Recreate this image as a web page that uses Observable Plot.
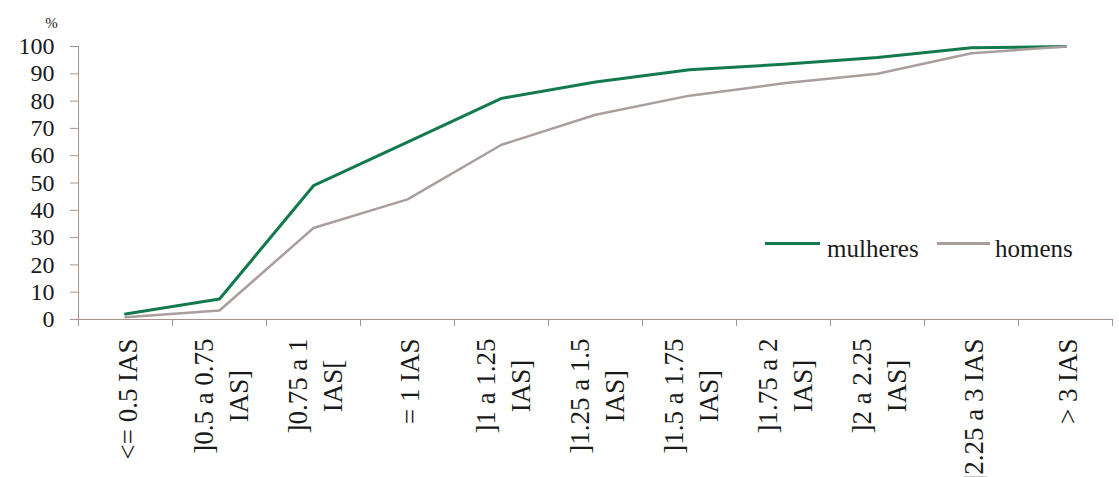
<!DOCTYPE html>
<html>
<head>
<meta charset="utf-8">
<script src="https://cdn.jsdelivr.net/npm/d3@7"></script>
<script src="https://cdn.jsdelivr.net/npm/@observablehq/plot@0.6"></script>
<style>
  html, body { margin: 0; padding: 0; background: #fff; }
  #wrap { position: relative; width: 1119px; height: 477px; overflow: hidden; }
  #wrap svg { display: block; }
  .sw { position: absolute; height: 3px; }
  .lt { position: absolute; color: #1a1a1a; white-space: nowrap; }
</style>
</head>
<body>
<div id="wrap"></div>
<script>
// ---- data ----
const categories = [
  "<= 0.5 IAS",
  "]0.5 a 0.75\nIAS]",
  "]0.75 a 1\nIAS[",
  "= 1 IAS",
  "]1 a 1.25\nIAS]",
  "]1.25 a 1.5\nIAS]",
  "]1.5 a 1.75\nIAS]",
  "]1.75 a 2\nIAS]",
  "]2 a 2.25\nIAS]",
  "]2.25 a 3 IAS",
  "> 3 IAS"
];
const mulheres = [2, 7.5, 49, 65, 81, 87, 91.5, 93.5, 96, 99.5, 100];
const homens   = [0.8, 3.3, 33.5, 44, 64, 75, 82, 86.5, 90, 97.5, 100];
const yTicks = [0, 10, 20, 30, 40, 50, 60, 70, 80, 90, 100];
const seriesNames = ["mulheres", "homens"];
const seriesColors = ["#137a4d", "#aa9e9e"];
const yUnit = "%";

// ---- font selection (serif, Times-like) ----
const ctx = document.createElement("canvas").getContext("2d");
function hasFont(name) {
  const s = "mmmmmmmmmmlli10WQ@#";
  ctx.font = `72px monospace`; const a = ctx.measureText(s).width;
  ctx.font = `72px "${name}", monospace`; const b = ctx.measureText(s).width;
  return Math.abs(a - b) > 0.5;
}
const FONT_NAME = ["Liberation Serif", "Times New Roman", "Tinos", "Nimbus Roman", "DejaVu Serif", "Noto Serif"].find(hasFont) || "serif";
const FONT = `"${FONT_NAME}", serif`;
function fitSize(sample, target) {
  ctx.font = `100px ${FONT}`;
  return 100 * target / ctx.measureText(sample).width;
}
const LABEL_SIZE = Math.min(27, fitSize("<= 0.5 IAS", 121));
const TICK_SIZE = Math.min(24, fitSize("100", 36));
const LEGEND_SIZE = Math.min(25, fitSize("mulheres", 95));
const UNIT_SIZE = 15;

// ---- layout / style ----
const W = 1119, H = 477;
const ML = 78, MR = 7, MT = 46, MB = 158;
const STEP = (W - ML - MR) / categories.length;
const AXIS = "#a8948c";
const TEXT = "#1a1a1a";
const LABEL_GAP = 19;

const rows = [];
categories.forEach((c, i) => {
  rows.push({cat: c, value: mulheres[i], series: seriesNames[0]});
  rows.push({cat: c, value: homens[i], series: seriesNames[1]});
});

ctx.font = `${LABEL_SIZE}px ${FONT}`;
const labelMarks = categories.map(c => {
  const w = d3.max(c.split("\n"), s => ctx.measureText(s).width);
  return Plot.text([c], {
    x: d => d, frameAnchor: "bottom", rotate: -90,
    textAnchor: "middle", lineAnchor: "middle", lineHeight: 1.28,
    fontSize: LABEL_SIZE, fill: TEXT, dy: LABEL_GAP + w / 2
  });
});

const plot = Plot.plot({
  width: W, height: H,
  marginLeft: ML, marginRight: MR, marginTop: MT, marginBottom: MB,
  x: {type: "point", domain: categories, padding: 0.5, axis: null},
  y: {domain: [0, 100], axis: null},
  style: {fontFamily: FONT, background: "#fff", color: TEXT},
  marks: [
    Plot.axisY(yTicks, {anchor: "left", tickSize: 8, tickPadding: 16, fontSize: TICK_SIZE, stroke: AXIS, fill: TEXT, label: null}),
    Plot.ruleX([categories[0]], {x: d => d, y1: 0, y2: 100, dx: -STEP / 2, stroke: AXIS}),
    Plot.ruleY([0], {stroke: AXIS}),
    Plot.ruleX(categories, {x: d => d, y1: 0, y2: 0, insetBottom: -7, dx: -STEP / 2, stroke: AXIS}),
    Plot.ruleX([categories[categories.length - 1]], {x: d => d, y1: 0, y2: 0, insetBottom: -7, dx: STEP / 2, stroke: AXIS}),
    Plot.text([yUnit], {frameAnchor: "top-left", dx: -27, dy: -23, fontSize: UNIT_SIZE, fill: TEXT, textAnchor: "middle", lineAnchor: "middle"}),
    Plot.line(rows.filter(d => d.series === seriesNames[0]), {x: "cat", y: "value", stroke: seriesColors[0], strokeWidth: 3}),
    Plot.line(rows.filter(d => d.series === seriesNames[1]), {x: "cat", y: "value", stroke: seriesColors[1], strokeWidth: 2.5}),
    ...labelMarks
  ]
});

const wrap = document.getElementById("wrap");
wrap.style.fontFamily = FONT;
wrap.appendChild(plot);

// legend (inside plot area)
const legendPos = [
  {sx: 765, sw: 55, tx: 827},
  {sx: 937, sw: 53, tx: 995}
];
seriesNames.forEach((name, i) => {
  const p = legendPos[i];
  const s = document.createElement("div");
  s.className = "sw";
  s.style.left = p.sx + "px"; s.style.top = "242px"; s.style.width = p.sw + "px";
  s.style.background = seriesColors[i];
  wrap.appendChild(s);
  const t = document.createElement("div");
  t.className = "lt";
  t.style.fontSize = LEGEND_SIZE + "px";
  t.style.lineHeight = "1";
  t.style.left = p.tx + "px"; t.style.top = (257 - LEGEND_SIZE * 0.86) + "px";
  t.textContent = name;
  wrap.appendChild(t);
});
</script>
</body>
</html>
